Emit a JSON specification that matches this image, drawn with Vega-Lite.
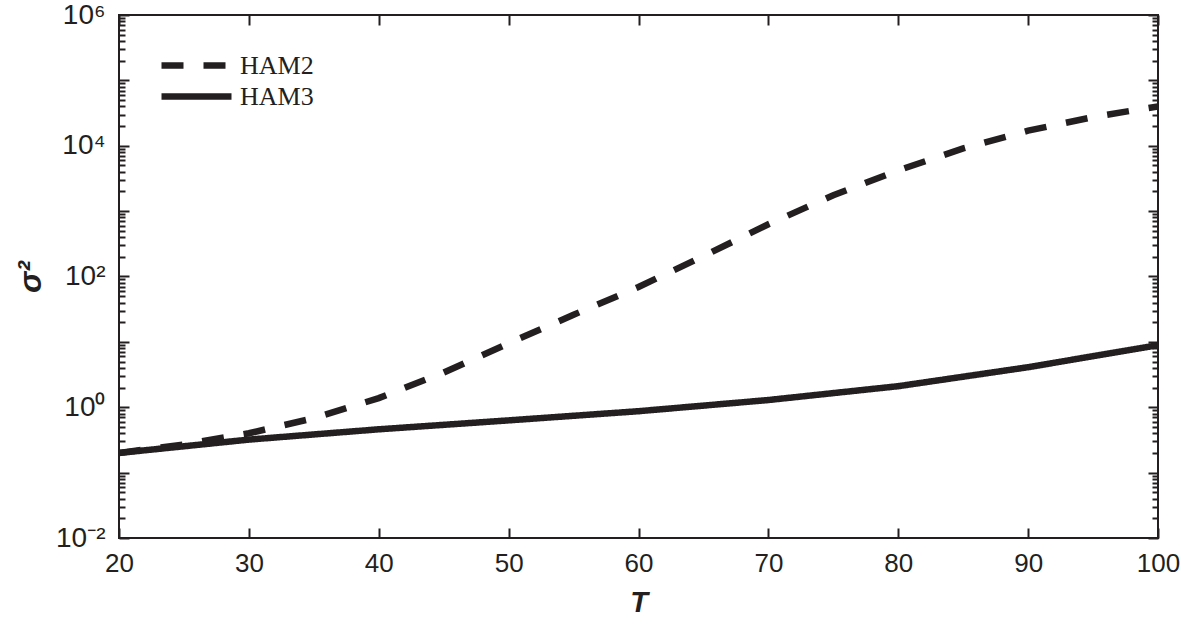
{
  "$schema": "https://vega.github.io/schema/vega-lite/v6.json",
  "width": 1039,
  "height": 523,
  "autosize": {"type": "none"},
  "padding": {"left": 119, "top": 15, "right": 23, "bottom": 90},
  "background": "white",
  "config": {
    "view": {"stroke": "#231f20", "strokeWidth": 2},
    "font": "Liberation Sans"
  },
  "data": {
    "values": [
      {"T": 20, "sigma2": 0.2, "series": "HAM2"},
      {"T": 25, "sigma2": 0.27, "series": "HAM2"},
      {"T": 30, "sigma2": 0.4, "series": "HAM2"},
      {"T": 35, "sigma2": 0.68, "series": "HAM2"},
      {"T": 40, "sigma2": 1.38, "series": "HAM2"},
      {"T": 45, "sigma2": 3.4, "series": "HAM2"},
      {"T": 50, "sigma2": 9.5, "series": "HAM2"},
      {"T": 55, "sigma2": 26, "series": "HAM2"},
      {"T": 60, "sigma2": 69, "series": "HAM2"},
      {"T": 65, "sigma2": 205, "series": "HAM2"},
      {"T": 70, "sigma2": 630, "series": "HAM2"},
      {"T": 75, "sigma2": 1750, "series": "HAM2"},
      {"T": 80, "sigma2": 4200, "series": "HAM2"},
      {"T": 85, "sigma2": 9100, "series": "HAM2"},
      {"T": 90, "sigma2": 17000, "series": "HAM2"},
      {"T": 95, "sigma2": 27500, "series": "HAM2"},
      {"T": 100, "sigma2": 40000, "series": "HAM2"},
      {"T": 20, "sigma2": 0.2, "series": "HAM3"},
      {"T": 30, "sigma2": 0.32, "series": "HAM3"},
      {"T": 40, "sigma2": 0.46, "series": "HAM3"},
      {"T": 50, "sigma2": 0.63, "series": "HAM3"},
      {"T": 60, "sigma2": 0.87, "series": "HAM3"},
      {"T": 70, "sigma2": 1.29, "series": "HAM3"},
      {"T": 80, "sigma2": 2.1, "series": "HAM3"},
      {"T": 90, "sigma2": 4.1, "series": "HAM3"},
      {"T": 100, "sigma2": 8.9, "series": "HAM3"}
    ]
  },
  "resolve": {"axis": {"x": "independent", "y": "independent"}},
  "layer": [
    {
      "mark": {"type": "line", "strokeWidth": 6.5, "color": "#231f20", "clip": true},
      "encoding": {
        "x": {
          "field": "T", "type": "quantitative",
          "scale": {"domain": [20, 100], "nice": false, "zero": false},
          "axis": {
            "orient": "bottom",
            "values": [20, 30, 40, 50, 60, 70, 80, 90, 100],
            "title": "T",
            "titleFont": "Liberation Sans", "titleFontSize": 29, "titleFontStyle": "italic", "titleFontWeight": "bold",
            "titleColor": "#231f20", "titlePadding": 12,
            "labelFont": "Liberation Sans", "labelFontSize": 26, "labelColor": "#231f20",
            "labelPadding": 22, "labelFlush": false,
            "tickSize": -10, "tickWidth": 2, "tickColor": "#231f20",
            "domain": false, "grid": false
          }
        },
        "y": {
          "field": "sigma2", "type": "quantitative",
          "scale": {"type": "log", "domain": [0.01, 1000000], "nice": false},
          "axis": {
            "orient": "left",
            "values": [0.01,0.02,0.03,0.04,0.05,0.06,0.07,0.08,0.09,0.1,0.2,0.3,0.4,0.5,0.6,0.7,0.8,0.9,1,2,3,4,5,6,7,8,9,10,20,30,40,50,60,70,80,90,100,200,300,400,500,600,700,800,900,1000,2000,3000,4000,5000,6000,7000,8000,9000,10000,20000,30000,40000,50000,60000,70000,80000,90000,100000,200000,300000,400000,500000,600000,700000,800000,900000,1000000],
            "labelExpr": "datum.value == 1000000 ? '10⁶' : datum.value == 10000 ? '10⁴' : datum.value == 100 ? '10²' : datum.value == 1 ? '10⁰' : datum.value == 0.01 ? '10⁻²' : ''",
            "title": "σ²",
            "titleFont": "Liberation Sans", "titleFontSize": 32, "titleFontStyle": "italic", "titleFontWeight": "bold",
            "titleColor": "#231f20", "titlePadding": 8,
            "labelFont": "Liberation Sans", "labelFontSize": 28, "labelColor": "#231f20",
            "labelPadding": 24, "labelOverlap": false, "labelFlush": false,
            "tickSize": {"condition": {"test": "abs(log(datum.value)/LN10 - round(log(datum.value)/LN10)) < 0.000001", "value": -10}, "value": -6},
            "tickWidth": 2, "tickColor": "#231f20",
            "domain": false, "grid": false
          }
        },
        "strokeDash": {
          "field": "series", "type": "nominal",
          "scale": {"domain": ["HAM2", "HAM3"], "range": [[22, 20], [1, 0]]},
          "legend": {
            "orient": "none", "legendX": 60, "legendY": 33,
            "title": null, "padding": 0,
            "symbolType": "M-2.5,0H2.5", "symbolSize": 784, "symbolStrokeWidth": 6.5,
            "symbolStrokeColor": "#231f20", "symbolFillColor": "transparent",
            "labelFont": "Liberation Serif", "labelFontSize": 26, "labelColor": "#231f20",
            "labelOffset": 26, "rowPadding": 0
          }
        }
      }
    },
    {
      "mark": {"type": "line", "opacity": 0},
      "encoding": {
        "x": {
          "field": "T", "type": "quantitative",
          "scale": {"domain": [20, 100], "nice": false, "zero": false},
          "axis": {
            "orient": "top", "values": [20, 30, 40, 50, 60, 70, 80, 90, 100],
            "labels": false, "title": null, "domain": false, "grid": false,
            "tickSize": -10, "tickWidth": 2, "tickColor": "#231f20"
          }
        },
        "y": {
          "field": "sigma2", "type": "quantitative",
          "scale": {"type": "log", "domain": [0.01, 1000000], "nice": false},
          "axis": {
            "orient": "right",
            "values": [0.01,0.02,0.03,0.04,0.05,0.06,0.07,0.08,0.09,0.1,0.2,0.3,0.4,0.5,0.6,0.7,0.8,0.9,1,2,3,4,5,6,7,8,9,10,20,30,40,50,60,70,80,90,100,200,300,400,500,600,700,800,900,1000,2000,3000,4000,5000,6000,7000,8000,9000,10000,20000,30000,40000,50000,60000,70000,80000,90000,100000,200000,300000,400000,500000,600000,700000,800000,900000,1000000],
            "labels": false, "title": null, "domain": false, "grid": false,
            "tickSize": {"condition": {"test": "abs(log(datum.value)/LN10 - round(log(datum.value)/LN10)) < 0.000001", "value": -10}, "value": -6},
            "tickWidth": 2, "tickColor": "#231f20"
          }
        },
        "detail": {"field": "series", "type": "nominal"}
      }
    }
  ]
}
